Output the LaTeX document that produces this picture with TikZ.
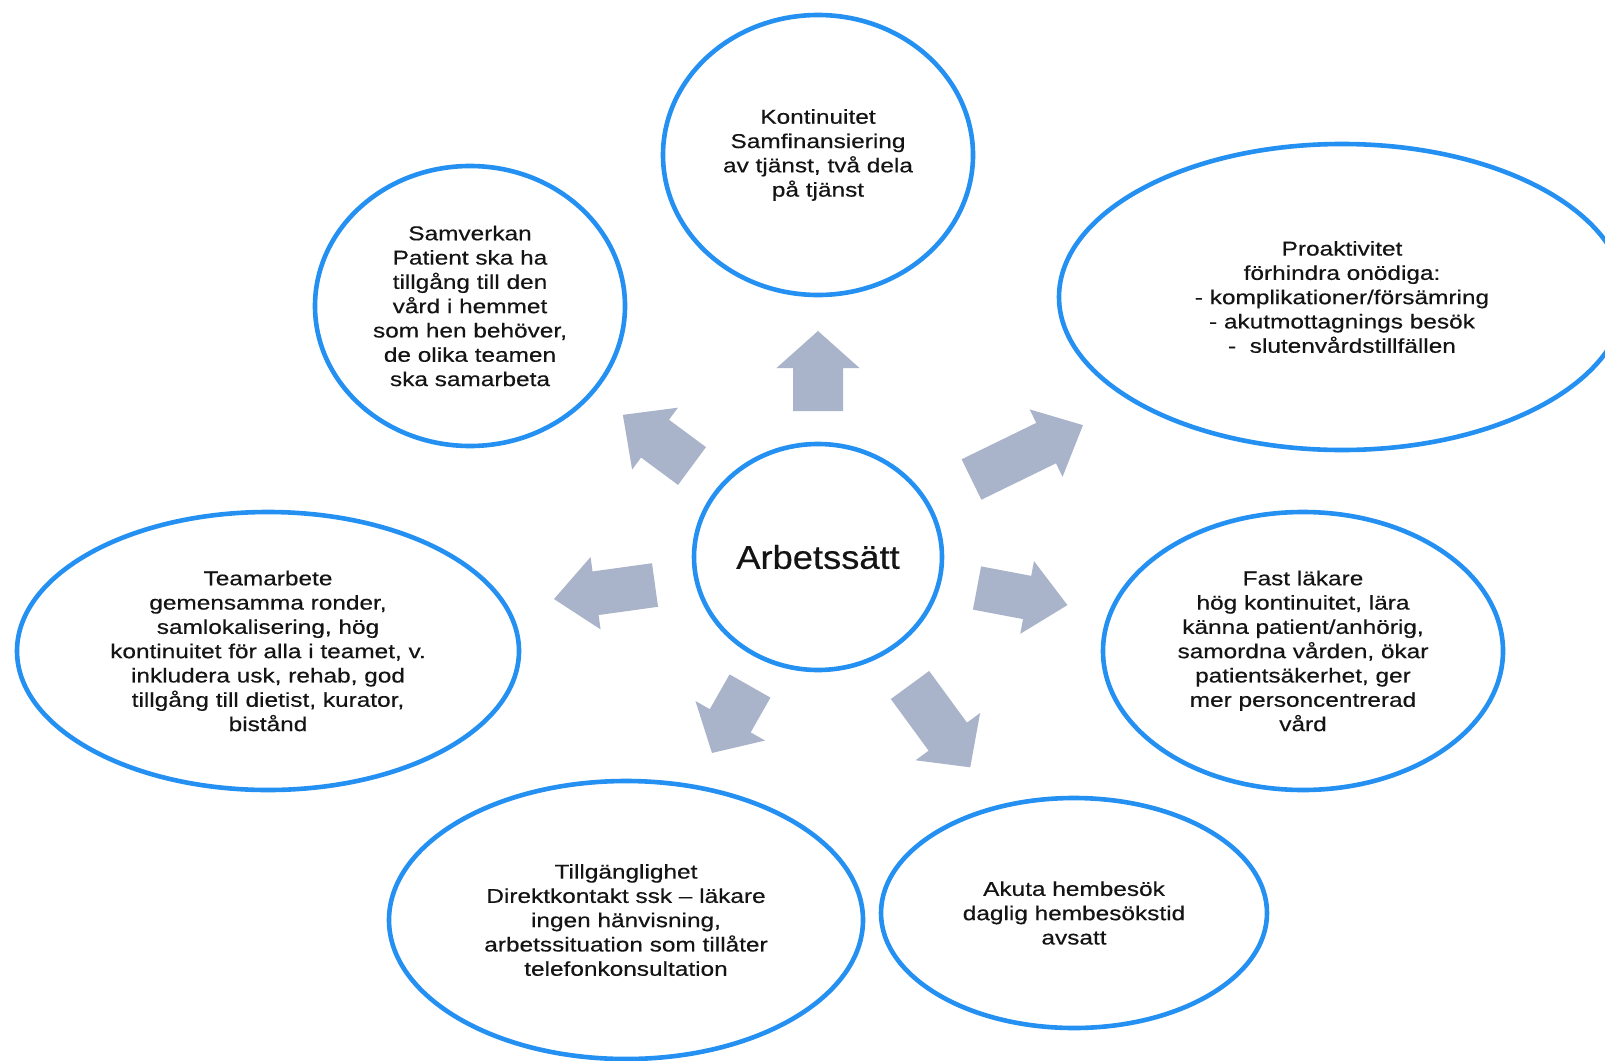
\documentclass[tikz,border=0pt]{standalone}
\usepackage{fontspec}
\setmainfont{Liberation Sans}[FakeStretch=1.22,FakeBold=0.4]
\newfontfamily\centerfont{Liberation Sans}[FakeStretch=1.1,FakeBold=0.5]
\usetikzlibrary{shapes.geometric}
\definecolor{ringblue}{HTML}{2490F2}
\definecolor{arrowgray}{HTML}{A9B3C9}
\definecolor{txt}{HTML}{141414}
\tikzset{
  bubble/.style={ellipse, draw=ringblue, line width=4.6pt, fill=white, inner sep=0pt,
                 align=center, text=txt, font=\fontsize{20}{24.3}\selectfont},
  arrowfill/.style={fill=arrowgray}
}
% #1 x, #2 y (base centre), #3 angle, #4 length, #5 shaft width, #6 head width, #7 head length
\newcommand{\blockarr}[7]{%
  \fill[arrowfill, shift={(#1,#2)}, rotate=#3]
    (0,-#5/2) -- ({#4-#7},-#5/2) -- ({#4-#7},-#6/2) -- (#4,0)
    -- ({#4-#7},#6/2) -- ({#4-#7},#5/2) -- (0,#5/2) -- cycle;}
\begin{document}
\begin{tikzpicture}[x=1pt,y=-1pt]
\useasboundingbox (0,0) rectangle (1605,1060);
\clip (0,0) rectangle (1605,1060);
\fill[white] (0,0) rectangle (1605,1060);

% arrows
\blockarr{818}{411}{90}{80}{50}{83}{37}
\blockarr{692}{466}{143.5}{86}{47}{77}{40}
\blockarr{971.5}{479.5}{26}{124}{45}{75}{41}
\blockarr{655}{585}{187.9}{102}{44}{73}{42}
\blockarr{977}{588}{-10.7}{92}{44}{74}{41}
\blockarr{750}{686}{240.4}{77}{47}{80}{37}
\blockarr{910}{685}{-53.8}{102}{47.5}{80}{38}

% nodes
\node[bubble, minimum width=248pt, minimum height=226pt,
      font=\centerfont\fontsize{33}{36}\selectfont] (center) at (818,557) {Arbetssätt};

\node[bubble, minimum width=310pt, minimum height=280pt] (kont) at (818,155)
  {Kontinuitet\\Samfinansiering\\av tjänst, två dela\\på tjänst};

\node[bubble, minimum width=310pt, minimum height=280pt] (samv) at (470,306)
  {Samverkan\\Patient ska ha\\tillgång till den\\vård i hemmet\\som hen behöver,\\de olika teamen\\ska samarbeta};

\node[bubble, minimum width=566pt, minimum height=306pt] (proa) at (1342,297)
  {Proaktivitet\\förhindra onödiga:\\- komplikationer/försämring\\- akutmottagnings besök\\-\ \ slutenvårdstillfällen};

\node[bubble, minimum width=502pt, minimum height=278pt] (team) at (268,651)
  {Teamarbete\\gemensamma ronder,\\samlokalisering, hög\\kontinuitet för alla i teamet, v.\\inkludera usk, rehab, god\\tillgång till dietist, kurator,\\bistånd};

\node[bubble, minimum width=400pt, minimum height=278pt] (fast) at (1303,651)
  {Fast läkare\\hög kontinuitet, lära\\känna patient/anhörig,\\samordna vården, ökar\\patientsäkerhet, ger\\mer personcentrerad\\vård};

\node[bubble, minimum width=474pt, minimum height=278pt] (till) at (626,920)
  {Tillgänglighet\\Direktkontakt ssk – läkare\\ingen hänvisning,\\arbetssituation som tillåter\\telefonkonsultation};

\node[bubble, minimum width=386pt, minimum height=230pt] (akut) at (1074,913)
  {Akuta hembesök\\daglig hembesökstid\\avsatt};
\end{tikzpicture}
\end{document}
